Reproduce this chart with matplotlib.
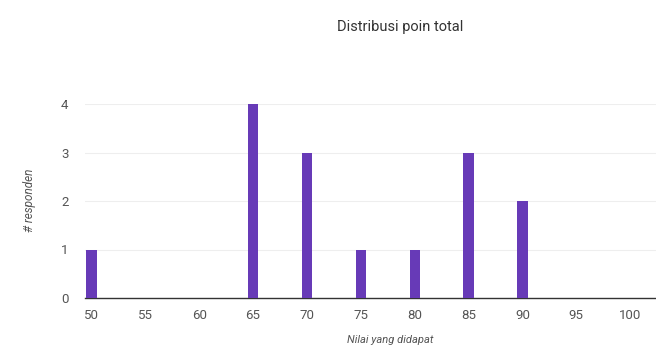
import matplotlib
matplotlib.use("Agg")
import matplotlib.pyplot as plt

plt.rcParams['font.family'] = ['Roboto', 'DejaVu Sans']

scores = [50, 55, 60, 65, 70, 75, 80, 85, 90, 95, 100]
counts = [1, 0, 0, 4, 3, 1, 1, 3, 2, 0, 0]
y_ticks = [0, 1, 2, 3, 4]

title = "Distribusi poin total"
x_label = "Nilai yang didapat"
y_label = "# responden"

bar_color = "#673ab7"

fig = plt.figure(figsize=(6.56, 3.52), dpi=100)
ax = fig.add_axes([85 / 656, 1 - 298 / 352, 1 - 85 / 656, (298 - 104) / 352])

ax.bar(scores, counts, width=0.95, color=bar_color, zorder=3)

ax.set_xlim(49.4, 102.4)
ax.set_ylim(0, 4)
ax.set_xticks(scores)
ax.set_yticks(y_ticks)
ax.grid(axis="y", color="#eeeeee", linewidth=0.8, zorder=0)

for side in ["top", "right", "left"]:
    ax.spines[side].set_visible(False)
ax.spines["bottom"].set_color("#333333")
ax.spines["bottom"].set_linewidth(1.0)
ax.tick_params(axis="both", length=0, labelsize=9.5, colors="#555555", pad=8)
ax.tick_params(axis="y", pad=12)

fig.text(400 / 656, 1 - 27 / 352, title, ha="center", va="center",
         fontsize=10.5, color="#333333")
fig.text(390 / 656, 1 - 340 / 352, x_label, ha="center", va="center",
         fontsize=8, style="italic", color="#555555")
fig.text(30 / 656, 1 - 200 / 352, y_label, ha="center", va="center",
         fontsize=8.5, style="italic", color="#555555", rotation=90)

fig.savefig("out.png", dpi=100)
